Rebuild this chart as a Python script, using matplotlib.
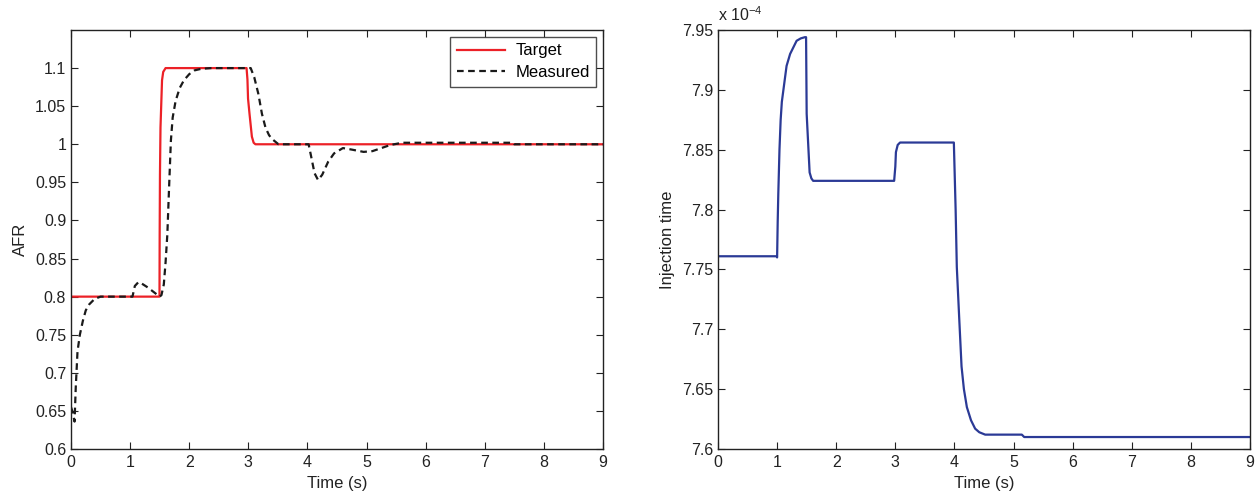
import matplotlib
matplotlib.use("Agg")
import matplotlib.pyplot as plt
from matplotlib.ticker import FuncFormatter, FixedLocator

plt.rcParams['font.family'] = ['Liberation Sans', 'DejaVu Sans']
plt.rcParams['mathtext.fontset'] = 'custom'
plt.rcParams['mathtext.rm'] = 'Liberation Sans'
plt.rcParams['mathtext.it'] = 'Liberation Sans'

# ---- Left panel data (AFR) ----
target_t = [0, 1.497, 1.500, 1.505, 1.514, 1.54, 1.56, 1.60, 2.97, 2.985, 2.995, 3.02, 3.04, 3.06, 3.09, 3.12, 9]
target_y = [0.8, 0.8, 0.88, 0.96, 1.022, 1.084, 1.095, 1.1, 1.1, 1.085, 1.06, 1.04, 1.025, 1.01, 1.002, 1.0, 1.0]

measured_t = [0, 0.03, 0.06, 0.08, 0.11, 0.15, 0.2, 0.25, 0.31, 0.4, 0.5, 1.04, 1.08, 1.14, 1.2, 1.3, 1.4, 1.5,
              1.53, 1.57, 1.6, 1.63, 1.66, 1.69, 1.72, 1.77, 1.84, 1.91, 2.0, 2.09, 2.2, 2.37, 3.04, 3.1, 3.17,
              3.23, 3.29, 3.35, 3.4, 3.51, 4.02, 4.06, 4.12, 4.18, 4.25, 4.35, 4.45, 4.6, 4.75, 4.95, 5.1, 5.25,
              5.4, 5.6, 7.48, 7.5, 9]
measured_y = [0.655, 0.648, 0.636, 0.68, 0.728, 0.75, 0.768, 0.782, 0.79, 0.797, 0.8, 0.8, 0.814, 0.819, 0.817,
              0.812, 0.806, 0.80, 0.802, 0.816, 0.845, 0.882, 0.945, 1.005, 1.035, 1.057, 1.074, 1.084, 1.092,
              1.097, 1.099, 1.1, 1.1, 1.088, 1.066, 1.04, 1.022, 1.012, 1.007, 1.0, 1.0, 0.985, 0.962, 0.953,
              0.96, 0.977, 0.988, 0.995, 0.993, 0.990, 0.991, 0.995, 0.999, 1.002, 1.002, 1.0, 1.0]

afr_ticks = [0.6, 0.65, 0.7, 0.75, 0.8, 0.85, 0.9, 0.95, 1.0, 1.05, 1.1]

# ---- Right panel data (injection time, seconds) ----
inj_t = [0, 0.99, 1.0, 1.01, 1.02, 1.04, 1.06, 1.08, 1.12, 1.16, 1.22, 1.33, 1.4, 1.47, 1.49, 1.5, 1.55, 1.58,
         1.61, 1.7, 2.98, 3.0, 3.01, 3.04, 3.08, 3.99, 4.02, 4.04, 4.08, 4.12, 4.16, 4.21, 4.28, 4.35, 4.42,
         4.52, 5.14, 5.18, 9]
inj_y = [7.761e-4, 7.761e-4, 7.760e-4, 7.79e-4, 7.813e-4, 7.85e-4, 7.875e-4, 7.89e-4, 7.905e-4, 7.92e-4,
         7.93e-4, 7.941e-4, 7.943e-4, 7.944e-4, 7.944e-4, 7.88e-4, 7.831e-4, 7.826e-4, 7.824e-4, 7.824e-4,
         7.824e-4, 7.836e-4, 7.848e-4, 7.854e-4, 7.856e-4, 7.856e-4, 7.80e-4, 7.752e-4, 7.71e-4, 7.669e-4,
         7.65e-4, 7.635e-4, 7.624e-4, 7.617e-4, 7.614e-4, 7.612e-4, 7.612e-4, 7.610e-4, 7.610e-4]

inj_ticks = [7.6e-4, 7.65e-4, 7.7e-4, 7.75e-4, 7.8e-4, 7.85e-4, 7.9e-4, 7.95e-4]
time_ticks = list(range(0, 10))

FS_TICK = 11.5
FS_LAB = 12
W, H = 1259, 499
fig = plt.figure(figsize=(W / 100, H / 100), dpi=100)

ax1 = fig.add_axes([71 / W, 1 - 449 / H, 532 / W, 419 / H])
ax2 = fig.add_axes([718 / W, 1 - 449 / H, 532 / W, 419 / H])

for ax in (ax1, ax2):
    ax.tick_params(direction='in', top=True, right=True, length=5, width=0.8,
                   labelsize=FS_TICK, colors='#222222')
    ax.tick_params(axis='x', pad=4.5)
    ax.tick_params(axis='y', pad=3.5)
    for s in ax.spines.values():
        s.set_linewidth(1.0)
        s.set_color('#222222')
    ax.set_xlim(0, 9)
    ax.xaxis.set_major_locator(FixedLocator(time_ticks))
    ax.set_xlabel('Time (s)', fontsize=FS_LAB, color='#222222', labelpad=4)

ax1.plot(target_t, target_y, color='#ec2127', lw=1.6, label='Target')
ax1.plot(measured_t, measured_y, color='#1a1a1a', lw=1.6, dashes=(3, 2), label='Measured')
ax1.set_ylim(0.6, 1.15)
ax1.yaxis.set_major_locator(FixedLocator(afr_ticks))
ax1.yaxis.set_major_formatter(FuncFormatter(lambda v, p: '%g' % round(v, 2)))
ax1.set_ylabel('AFR', fontsize=FS_LAB, color='#222222', labelpad=5)
leg = ax1.legend(loc='upper right', fontsize=FS_LAB, frameon=True, fancybox=False,
                 edgecolor='#222222', borderaxespad=0.4, handlelength=2.9,
                 borderpad=0.4, labelspacing=0.4, handletextpad=0.6)
leg.get_frame().set_linewidth(1.0)

ax2.plot(inj_t, inj_y, color='#2b3a96', lw=1.6)
ax2.set_ylim(7.6e-4, 7.95e-4)
ax2.yaxis.set_major_locator(FixedLocator(inj_ticks))
ax2.yaxis.set_major_formatter(FuncFormatter(lambda v, p: '%g' % round(v * 1e4, 3)))
ax2.set_ylabel('Injection time', fontsize=FS_LAB, color='#222222', labelpad=5)
ax2.text(0.0, 1.015, r'x 10$^{-4}$', transform=ax2.transAxes, ha='left', va='bottom',
         fontsize=FS_TICK, color='#222222')

fig.savefig('out.png', dpi=100)
